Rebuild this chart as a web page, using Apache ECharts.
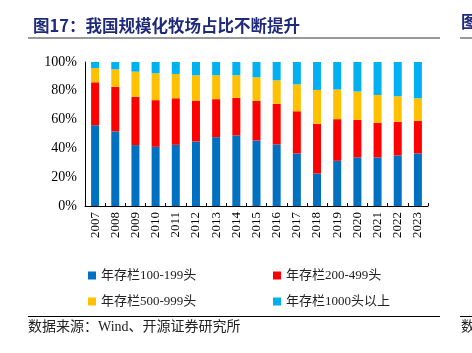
<!DOCTYPE html>
<html>
<head>
<meta charset="utf-8">
<script src="https://cdn.jsdelivr.net/npm/echarts@6/dist/echarts.min.js"></script>
<style>
html, body { margin: 0; padding: 0; background: #fff; }
#main { width: 472px; height: 353px; }
</style>
</head>
<body>
<div id="main"></div>
<script>
// 年份
var years = ['2007', '2008', '2009', '2010', '2011', '2012', '2013', '2014', '2015',
    '2016', '2017', '2018', '2019', '2020', '2021', '2022', '2023'];
// 各规模占比（%）
var s100 = [56.1, 51.8, 42.3, 41.1, 42.5, 44.8, 47.8, 49.0, 45.5, 42.8, 36.5, 22.6, 31.4, 33.7, 33.7, 35.1, 36.5];
var s200 = [29.8, 30.9, 33.5, 32.4, 32.3, 28.4, 26.4, 26.1, 27.5, 28.1, 29.3, 34.4, 28.9, 26.1, 24.0, 23.3, 22.6];
var s500 = [9.9, 12.2, 17.5, 18.7, 16.9, 17.6, 16.6, 15.7, 16.4, 16.4, 18.7, 23.6, 20.6, 19.7, 19.4, 17.8, 15.7];
var s1000 = [4.2, 5.1, 6.7, 7.8, 8.3, 9.2, 9.2, 9.2, 10.6, 12.7, 15.5, 19.4, 19.1, 20.5, 22.9, 23.8, 25.2];
var names = ['年存栏100-199头', '年存栏200-499头', '年存栏500-999头', '年存栏1000头以上'];
var colors = ['#0070C0', '#FF0000', '#FFC000', '#00B0F0'];

var chart = echarts.init(document.getElementById('main'));
var serif = "'Liberation Serif', 'Noto Sans CJK SC', serif";

function bar(name, data, color) {
    return {
        name: name,
        type: 'bar',
        stack: 'total',
        barWidth: 8,
        data: data,
        itemStyle: { color: color },
        emphasis: { disabled: true }
    };
}

function legendAt(name, left, top) {
    return {
        data: [name],
        left: left,
        top: top,
        icon: 'rect',
        itemWidth: 8,
        itemHeight: 8,
        itemGap: 4,
        textStyle: { fontFamily: serif, fontSize: 13, color: '#222' }
    };
}

var option = {
    animation: false,
    title: {
        text: '图17：我国规模化牧场占比不断提升',
        left: 28,
        top: 12,
        textStyle: {
            fontFamily: "'Noto Sans CJK SC', sans-serif",
            fontSize: 16.5,
            fontWeight: 'bold',
            color: '#1F2A7A'
        }
    },
    color: colors,
    legend: [
        legendAt(names[0], 83, 264),
        legendAt(names[1], 268, 264),
        legendAt(names[2], 83, 290),
        legendAt(names[3], 268, 290)
    ],
    grid: { left: 85, right: 44, top: 62, bottom: 147 },
    xAxis: {
        type: 'category',
        data: years,
        axisLine: { lineStyle: { color: '#000', width: 1 } },
        axisTick: { show: true, inside: true, length: 3, lineStyle: { color: '#000' } },
        axisLabel: { rotate: 90, fontFamily: serif, fontSize: 13, color: '#000', margin: 6 }
    },
    yAxis: {
        type: 'value',
        min: 0,
        max: 100,
        interval: 20,
        splitLine: { show: false },
        axisLine: { show: true, lineStyle: { color: '#000', width: 1 } },
        axisTick: { show: false },
        axisLabel: { formatter: '{value}%', fontFamily: serif, fontSize: 14, color: '#000', margin: 8 }
    },
    series: [
        bar(names[0], s100, colors[0]),
        bar(names[1], s200, colors[1]),
        bar(names[2], s500, colors[2]),
        bar(names[3], s1000, colors[3])
    ],
    graphic: [
        // 标题下方灰线
        { type: 'rect', shape: { x: 28, y: 37, width: 412, height: 2 }, style: { fill: '#999' } },
        { type: 'rect', shape: { x: 460, y: 37, width: 12, height: 2 }, style: { fill: '#999' } },
        { type: 'text', left: 461, top: 13, style: { text: '图', fontSize: 16.5, fontWeight: 'bold', fill: '#1F2A7A', fontFamily: "'Noto Sans CJK SC', sans-serif" } },
        // 底部黑线与来源
        { type: 'rect', shape: { x: 28, y: 316, width: 412, height: 1 }, style: { fill: '#000' } },
        { type: 'rect', shape: { x: 460, y: 316, width: 12, height: 1 }, style: { fill: '#000' } },
        { type: 'text', left: 28, top: 320, style: { text: '数据来源：Wind、开源证券研究所', fontSize: 14, fill: '#222', fontFamily: serif } },
        { type: 'text', left: 461, top: 320, style: { text: '数', fontSize: 14, fill: '#222', fontFamily: serif } }
    ]
};

chart.setOption(option);
</script>
</body>
</html>
